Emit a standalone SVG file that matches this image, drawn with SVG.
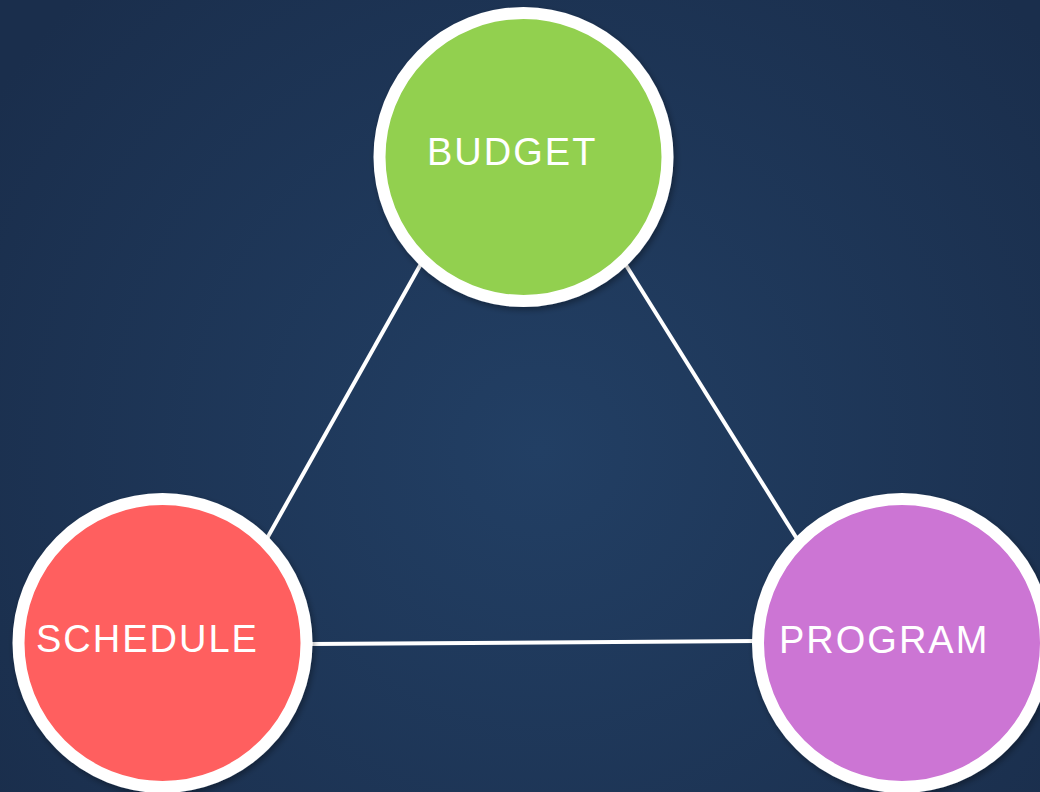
<svg xmlns="http://www.w3.org/2000/svg" width="1040" height="792" viewBox="0 0 1040 792">
<defs>
<radialGradient id="bg" cx="540" cy="450" r="650" gradientUnits="userSpaceOnUse">
<stop offset="0" stop-color="#223f64"/>
<stop offset="1" stop-color="#1a2e4c"/>
</radialGradient>
<filter id="sh" x="-20%" y="-20%" width="140%" height="140%">
<feDropShadow dx="2" dy="3" stdDeviation="3" flood-color="#000" flood-opacity="0.35"/>
</filter>
<style>
.ring{stroke:#ffffff;stroke-width:12;filter:url(#sh)}
.lbl{font-family:"Liberation Sans",Arial,sans-serif;font-size:38px;fill:#ffffff;letter-spacing:2px}
.conn{stroke:#ffffff;stroke-width:4;fill:none;stroke-linecap:butt}
</style>
</defs>
<rect width="1040" height="792" fill="url(#bg)"/>
<g id="connectors">
<line class="conn" x1="422" y1="262" x2="265" y2="542"/>
<line class="conn" x1="624" y1="262" x2="799" y2="542"/>
<line class="conn" x1="310" y1="644" x2="758" y2="641"/>
</g>
<g id="budget">
<circle class="ring" cx="523.5" cy="157" r="144" fill="#92d050"/>
<text class="lbl" x="427" y="165">BUDGET</text>
</g>
<g id="schedule">
<circle class="ring" cx="162.5" cy="643" r="144" fill="#ff5f5f"/>
<text class="lbl" x="36" y="652">SCHEDULE</text>
</g>
<g id="program">
<circle class="ring" cx="902" cy="643" r="144" fill="#cc74d4"/>
<text class="lbl" x="779" y="653">PROGRAM</text>
</g>
</svg>
